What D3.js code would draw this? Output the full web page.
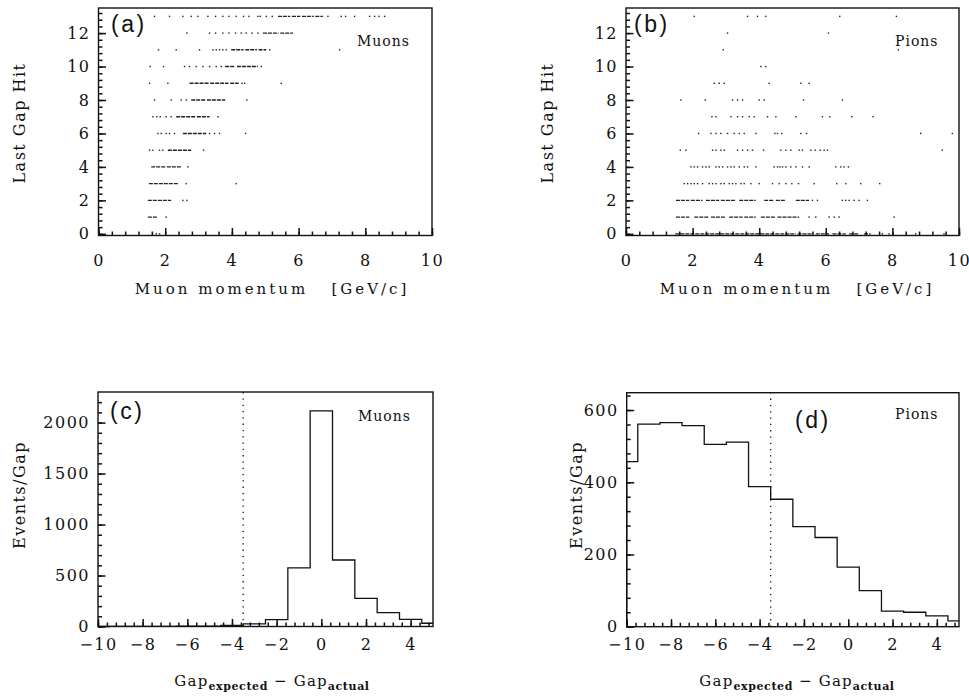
<!DOCTYPE html>
<html>
<head>
<meta charset="utf-8">
<script src="https://cdn.jsdelivr.net/npm/d3@7"></script>
<style>
  body { margin: 0; background: #fff; }
</style>
</head>
<body>
<div id="chart"></div>
<script>
// ---- data ----
// scatter: single hits [momentum, last gap], dense runs [p0, p1, last gap]
const muonDots = [
  [1.68,13],[2.13,13],[2.53,13],[2.78,13],[2.98,13],[3.28,13],[3.51,13],[3.73,13],[3.91,13],[4.13,13],
  [4.35,13],[4.51,13],[4.78,13],[4.85,13],[5.03,13],[5.21,13],[6.88,13],[7.28,13],[7.41,13],[7.68,13],
  [8.13,13],[8.28,13],[8.41,13],[8.58,13],
  [2.65,12],[3.33,12],[3.51,12],[3.73,12],[3.91,12],[4.11,12],[4.28,12],[4.43,12],[4.6,12],[4.78,12],
  [1.8,11],[2.33,11],[3.03,11],[3.43,11],[3.53,11],[3.63,11],[3.73,11],[3.83,11],[5.13,11],[7.23,11],
  [1.55,10],[1.95,10],[2.58,10],[2.73,10],[2.93,10],[3.13,10],[3.33,10],[3.53,10],[3.68,10],[4.88,10],
  [1.53,9],[2.08,9],[4.3,9],[4.38,9],[5.48,9],
  [1.68,8],[2.18,8],[2.48,8],[2.63,8],[4.45,8],
  [1.63,7],[1.75,7],[1.85,7],[2.03,7],[2.18,7],[3.58,7],
  [1.78,6],[1.88,6],[2.03,6],[2.13,6],[2.28,6],[3.33,6],[3.48,6],[3.63,6],[4.41,6],
  [1.53,5],[1.63,5],[1.83,5],[1.93,5],[3.15,5],
  [2.68,4],
  [2.63,3],[4.13,3],
  [2.53,2],[2.65,2],
  [2.03,1],
  [1.73,0],[1.83,0]
];
const muonRuns = [
  [5.38,5.75,13],[5.8,6.05,13],[6.1,6.45,13],[6.5,6.73,13],
  [4.93,5.4,12],[5.45,5.83,12],
  [3.98,4.35,11],[4.4,4.75,11],[4.8,5.03,11],
  [3.8,4.1,10],[4.15,4.78,10],
  [2.73,3.3,9],[3.35,3.9,9],[3.95,4.2,9],
  [2.78,3.2,8],[3.25,3.8,8],
  [2.33,2.9,7],[2.95,3.33,7],
  [2.53,3.23,6],
  [2.08,2.78,5],
  [1.58,2.0,4],[2.05,2.48,4],
  [1.51,2.38,3],
  [1.48,2.18,2],
  [1.48,1.78,1]
];
const pionDots = [
  [2.05,13],[3.65,13],[3.95,13],[4.2,13],[6.42,13],[8.12,13],
  [3.05,12],[6.08,12],
  [2.92,11],[8.18,11],
  [4.05,10],[4.2,10],
  [2.65,9],[2.8,9],[2.95,9],[4.3,9],[5.25,9],[5.5,9],
  [1.65,8],[2.38,8],[3.2,8],[3.35,8],[3.5,8],[4.0,8],[4.15,8],[5.33,8],[6.5,8],
  [2.58,7],[2.7,7],[3.15,7],[3.35,7],[3.5,7],[3.7,7],[3.85,7],[4.25,7],[4.5,7],[5.1,7],[5.9,7],[6.12,7],[6.78,7],[7.42,7],
  [2.18,6],[2.55,6],[2.7,6],[2.85,6],[3.05,6],[3.25,6],[3.4,6],[3.55,6],[3.9,6],[4.47,6],[4.55,6],[4.68,6],[5.25,6],[5.42,6],[8.85,6],[9.8,6],
  [1.63,5],[1.8,5],[2.6,5],[2.7,5],[2.85,5],[2.95,5],[3.35,5],[3.5,5],[3.65,5],[3.8,5],[4.13,5],[4.65,5],[4.8,5],[4.95,5],
  [5.2,5],[5.3,5],[5.55,5],[5.68,5],[5.83,5],[5.95,5],[6.05,5],[9.5,5],
  [1.95,4],[2.05,4],[2.15,4],[2.3,4],[2.4,4],[2.5,4],[2.7,4],[2.8,4],[2.9,4],[3.05,4],[3.15,4],[3.25,4],[3.4,4],[3.55,4],
  [3.65,4],[3.9,4],[4.45,4],[4.55,4],[4.62,4],[4.7,4],[4.8,4],[4.95,4],[5.1,4],[5.3,4],[5.5,4],[6.3,4],[6.45,4],[6.55,4],[6.68,4],
  [1.75,3],[1.85,3],[1.95,3],[2.05,3],[2.15,3],[2.3,3],[2.5,3],[2.6,3],[2.7,3],[2.85,3],[2.95,3],[3.1,3],[3.2,3],[3.3,3],
  [3.45,3],[3.55,3],[3.75,3],[4.0,3],[4.4,3],[4.6,3],[4.8,3],[4.98,3],[5.18,3],[5.65,3],[6.33,3],[6.6,3],[7.05,3],[7.62,3],
  [5.6,2],[5.75,2],[6.5,2],[6.6,2],[6.7,2],[6.85,2],[7.0,2],[7.25,2],
  [5.5,1],[5.7,1],[6.1,1],[6.25,1],[6.4,1],[8.05,1],
  [7.7,0],[7.9,0],[8.7,0],[9.55,0]
];
const pionRuns = [
  [1.5,1.9,2],[1.95,2.3,2],[2.4,2.8,2],[2.85,3.3,2],[3.4,3.9,2],[4.15,4.45,2],[4.5,4.8,2],[5.1,5.5,2],
  [1.5,1.9,1],[2.05,2.5,1],[2.55,3.0,1],[3.1,3.5,1],[3.55,3.9,1],[4.05,4.5,1],[4.55,5.2,1],
  [1.48,5.1,0],[5.15,5.6,0],[5.7,6.1,0],[6.2,6.6,0],[6.7,7.0,0],[7.15,7.35,0]
];

// histograms: one bin per integer of Gap_expected - Gap_actual
const gapDiffBins = [-10,-9,-8,-7,-6,-5,-4,-3,-2,-1,0,1,2,3,4,5];
const muonCounts  = [0,1,2,2,3,4,10,25,68,575,2115,652,276,136,70,32];
const pionCounts  = [457,561,565,557,505,511,388,353,277,247,165,100,43,40,30,16];
const cutValue = -3.5;

const momentumTicks = [0,2,4,6,8,10];
const lastGapTicks  = [0,2,4,6,8,10,12];
const gapDiffTicks  = [-10,-8,-6,-4,-2,0,2,4];
const muonCountTicks = [0,500,1000,1500,2000];
const pionCountTicks = [0,200,400,600];

// ---- drawing ----
const serif = "DejaVu Serif";
const svg = d3.select("#chart").append("svg")
  .attr("width", 969).attr("height", 696);

function frame(x, y) {
  svg.append("rect")
    .attr("x", x.range()[0]).attr("y", y.range()[1])
    .attr("width", x.range()[1] - x.range()[0])
    .attr("height", y.range()[0] - y.range()[1])
    .attr("fill", "none").attr("stroke", "#111").attr("stroke-width", 1.4);
}

function axes(x, y, xMajor, xMinor, yMajor, yMinor, xPad) {
  const x0 = x.range()[0], y0 = y.range()[0];
  const minus = d => d < 0 ? "\u2212" + Math.abs(d) : String(d);
  const gs = [
    svg.append("g").attr("transform", `translate(0,${y0})`)
      .call(d3.axisBottom(x).tickValues(xMinor).tickSize(-4).tickFormat("")),
    svg.append("g").attr("transform", `translate(0,${y0})`)
      .call(d3.axisBottom(x).tickValues(xMajor).tickSize(-7.5).tickPadding(xPad).tickFormat(minus)),
    svg.append("g").attr("transform", `translate(${x0},0)`)
      .call(d3.axisLeft(y).tickValues(yMinor).tickSize(-4).tickFormat("")),
    svg.append("g").attr("transform", `translate(${x0},0)`)
      .call(d3.axisLeft(y).tickValues(yMajor).tickSize(-7.5).tickPadding(8).tickFormat(minus))
  ];
  gs.forEach(g => {
    g.selectAll(".domain").remove();
    g.selectAll("line").attr("stroke", "#111").attr("stroke-width", 1.5);
    g.selectAll("text").attr("font-family", serif).attr("font-size", 16)
      .attr("letter-spacing", 1.5).attr("fill", "#111");
  });
}

function scatter(x, y, dots, runs) {
  svg.append("g").selectAll("rect").data(dots).join("rect")
    .attr("x", d => x(d[0]) - 0.7).attr("y", d => y(d[1]) - 0.7)
    .attr("width", 1.4).attr("height", 1.4).attr("fill", "#222");
  svg.append("g").selectAll("line").data(runs).join("line")
    .attr("x1", d => x(d[0])).attr("x2", d => x(d[1]))
    .attr("y1", d => y(d[2])).attr("y2", d => y(d[2]))
    .attr("stroke", "#222").attr("stroke-width", 1.4)
    .attr("stroke-dasharray", "4,1");
}

function histogram(x, y, bins, counts) {
  const lo = x.domain()[0], hi = x.domain()[1];
  const pts = [[lo, 0]];
  bins.forEach((b, i) => pts.push([Math.max(b - 0.5, lo), counts[i]]));
  pts.push([hi, counts[counts.length - 1]]);
  const line = d3.line().x(d => x(d[0])).y(d => y(d[1])).curve(d3.curveStepAfter);
  svg.append("path").datum(pts).attr("d", line)
    .attr("fill", "none").attr("stroke", "#111").attr("stroke-width", 1.3);
  svg.append("line")
    .attr("x1", x(cutValue)).attr("x2", x(cutValue))
    .attr("y1", y.range()[0]).attr("y2", y.range()[1])
    .attr("stroke", "#111").attr("stroke-width", 1.3).attr("stroke-dasharray", "1.3,5");
}

function label(txt, x, y, opts) {
  const t = svg.append("text").attr("x", x).attr("y", y).text(txt)
    .attr("font-family", opts.family || serif)
    .attr("font-size", opts.size || 15)
    .attr("letter-spacing", opts.ls == null ? 1.5 : opts.ls)
    .attr("text-anchor", opts.anchor || "start")
    .attr("fill", "#111")
    .style("white-space", "pre");
  if (opts.rotate) t.attr("transform", `rotate(-90,${x},${y})`);
  return t;
}

function gapTitle(cx, y) {
  const t = svg.append("text").attr("x", cx).attr("y", y)
    .attr("font-family", serif).attr("fill", "#111")
    .attr("text-anchor", "middle").attr("font-size", 15).attr("letter-spacing", 1.2);
  t.append("tspan").text("Gap");
  t.append("tspan").text("expected").attr("font-size", 11).attr("font-weight", "bold").attr("dy", 4).attr("letter-spacing", 0.6);
  t.append("tspan").text(" \u2212 ").attr("dy", -4);
  t.append("tspan").text("Gap");
  t.append("tspan").text("actual").attr("font-size", 11).attr("font-weight", "bold").attr("dy", 4).attr("letter-spacing", 0.6);
}

// panel (a) muons scatter
const xa = d3.scaleLinear().domain([0, 10]).range([98.5, 432]);
const ya = d3.scaleLinear().domain([-0.1, 13.5]).range([235.5, 8]);
scatter(xa, ya, muonDots, muonRuns);
axes(xa, ya, momentumTicks, d3.range(0, 10.01, 0.4), lastGapTicks, d3.range(0, 13.5, 0.4), 19);
frame(xa, ya);

// panel (b) pions scatter
const xb = d3.scaleLinear().domain([0, 10]).range([626, 959]);
const yb = d3.scaleLinear().domain([-0.1, 13.5]).range([235.5, 8]);
scatter(xb, yb, pionDots, pionRuns);
axes(xb, yb, momentumTicks, d3.range(0, 10.01, 0.4), lastGapTicks, d3.range(0, 13.5, 0.4), 19);
frame(xb, yb);

// panel (c) muons histogram
const xc = d3.scaleLinear().domain([-10, 5]).range([98, 433]);
const yc = d3.scaleLinear().domain([0, 2300]).range([626.5, 392]);
histogram(xc, yc, gapDiffBins, muonCounts);
axes(xc, yc, gapDiffTicks, d3.range(-10, 5.01, 0.4), muonCountTicks, d3.range(0, 2300, 100), 12);
frame(xc, yc);

// panel (d) pions histogram
const xd = d3.scaleLinear().domain([-10, 5]).range([626.7, 959]);
const yd = d3.scaleLinear().domain([0, 648]).range([626.7, 392.7]);
histogram(xd, yd, gapDiffBins, pionCounts);
axes(xd, yd, gapDiffTicks, d3.range(-10, 5.01, 0.4), pionCountTicks, d3.range(0, 648, 40), 12);
frame(xd, yd);

// titles and panel tags
label("Last Gap Hit", 25, 123, {size: 16, anchor: "middle", rotate: true, ls: 1.5});
label("Last Gap Hit", 553, 123, {size: 16, anchor: "middle", rotate: true, ls: 1.5});
label("Events/Gap", 25, 495, {size: 16, anchor: "middle", rotate: true, ls: 1.5});
label("Events/Gap", 582, 495, {size: 16, anchor: "middle", rotate: true, ls: 1.5});
label("Muon momentum   [GeV/c]", 272, 294, {size: 15, anchor: "middle", ls: 3});
label("Muon momentum   [GeV/c]", 797, 294, {size: 15, anchor: "middle", ls: 3});
gapTitle(272, 686);
gapTitle(797, 686);

label("(a)", 111, 32, {size: 23, family: "Liberation Sans", ls: 2.5});
label("(b)", 634, 32, {size: 23, family: "Liberation Sans", ls: 2.5});
label("(c)", 110, 419, {size: 23, family: "Liberation Sans", ls: 2.5});
label("(d)", 795, 428, {size: 23, family: "Liberation Sans", ls: 2.5});
label("Muons", 357, 46, {size: 14, ls: 1});
label("Pions", 895, 46, {size: 14, ls: 1});
label("Muons", 358, 421, {size: 14, ls: 1});
label("Pions", 895, 419, {size: 14, ls: 1});
</script>
</body>
</html>
